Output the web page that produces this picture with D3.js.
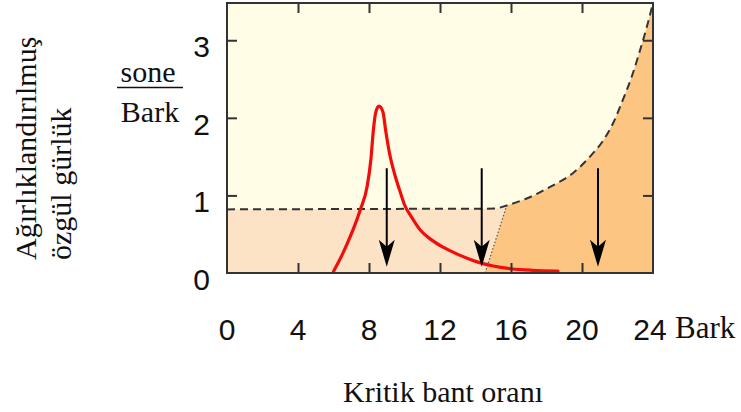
<!DOCTYPE html>
<html>
<head>
<meta charset="utf-8">
<script src="https://cdn.jsdelivr.net/npm/d3@7"></script>
<style>
  html, body { margin: 0; padding: 0; background: #ffffff; overflow: hidden; }
  text { fill: #111; }
</style>
</head>
<body>
<svg id="chart" width="741" height="412"></svg>
<script>
// Axis tick values (critical band rate in Bark, specific loudness in sone/Bark)
const xTickValues = [0, 4, 8, 12, 16, 20, 24];
const yTickValues = [0, 1, 2, 3];
const xInnerTicks = [4, 8, 12, 16, 20];
const yInnerTicks = [1, 2, 3];

// Specific loudness pattern of the narrow-band sound (red curve)
const maskerBark = [6.0, 6.5, 7.0, 7.5, 7.9, 8.1, 8.25, 8.38, 8.56, 8.78, 8.95, 9.15, 9.45, 9.75, 10.0, 10.4, 10.9, 11.5, 12.2, 13.0, 14.0, 15.0, 16.0, 17.2, 18.65];
const maskerSone = [0.02, 0.24, 0.50, 0.81, 1.12, 1.45, 1.85, 2.07, 2.15, 2.08, 1.82, 1.55, 1.27, 1.05, 0.88, 0.72, 0.55, 0.43, 0.33, 0.24, 0.15, 0.09, 0.055, 0.035, 0.025];

// Weighting boundary (dashed): flat part, then rising towards 24 Bark
const weightBark = [0, 15.2, 15.76, 16.88, 18.2, 19.5, 20.45, 21.2, 21.75, 22.3, 22.8, 23.27, 23.65, 24];
const weightSone = [0.82, 0.83, 0.87, 0.96, 1.11, 1.29, 1.50, 1.71, 1.93, 2.23, 2.53, 2.87, 3.17, 3.48];
const weightCornerIndex = 2;

// Dotted divider between the two shaded regions
const dividerBark = [14.54, 15.76];
const dividerSone = [0, 0.87];

// Downward arrows
const arrowBark = [9.0, 14.35, 20.9];
const arrowTop = [1.35, 1.35, 1.35];
const arrowTip = [0.08, 0.08, 0.08];

const svg = d3.select("#chart");
const plot = { left: 227, right: 653, top: 3, bottom: 273 };

const x = d3.scaleLinear().domain([0, 24]).range([plot.left, plot.right]);
const y = d3.scaleLinear().domain([0, 3.48]).range([plot.bottom, plot.top]);

const colors = {
  bg: "#fffde6",
  light: "#fde3c5",
  dark: "#fdc582",
  red: "#f20d0d",
  ink: "#333333"
};

const serif = "'Liberation Serif', 'Times New Roman', serif";
const sans = "'Liberation Sans', Arial, sans-serif";

svg.append("defs").append("clipPath").attr("id", "plotClip")
  .append("rect")
  .attr("x", plot.left).attr("y", plot.top)
  .attr("width", plot.right - plot.left).attr("height", plot.bottom - plot.top);

const g = svg.append("g").attr("clip-path", "url(#plotClip)");

// Background
g.append("rect")
  .attr("x", x(0)).attr("y", y(3.48))
  .attr("width", x(24) - x(0)).attr("height", y(0) - y(3.48))
  .attr("fill", colors.bg);

const weightPts = weightBark.map((b, i) => [b, weightSone[i]]);
const flatPts = weightPts.slice(0, weightCornerIndex + 1);
const risePts = weightPts.slice(weightCornerIndex);

const flatLine = d3.line().x(d => x(d[0])).y(d => y(d[1])).curve(d3.curveLinear);
const riseLine = d3.line().x(d => x(d[0])).y(d => y(d[1])).curve(d3.curveMonotoneX);

// Light shaded region (left of divider, below flat boundary)
g.append("path")
  .attr("d", flatLine(flatPts) +
    `L${x(dividerBark[0])},${y(dividerSone[0])}L${x(0)},${y(0)}Z`)
  .attr("fill", colors.light);

// Darker shaded region (right of divider, below rising boundary)
g.append("path")
  .attr("d", riseLine(risePts) +
    `L${x(24)},${y(0)}L${x(dividerBark[0])},${y(dividerSone[0])}Z`)
  .attr("fill", colors.dark);

// Dotted divider
g.append("path")
  .attr("d", flatLine(dividerBark.map((b, i) => [b, dividerSone[i]])))
  .attr("fill", "none")
  .attr("stroke", "#555")
  .attr("stroke-width", 1.2)
  .attr("stroke-dasharray", "1.5,2");

// Dashed weighting boundary
g.append("path")
  .attr("d", flatLine(flatPts) + riseLine(risePts).replace(/^M/, "L"))
  .attr("fill", "none")
  .attr("stroke", colors.ink)
  .attr("stroke-width", 2)
  .attr("stroke-dasharray", "8,5");

// Red specific loudness curve
g.append("path")
  .attr("d", d3.line().x(d => x(d[0])).y(d => y(d[1])).curve(d3.curveMonotoneX)
    (maskerBark.map((b, i) => [b, maskerSone[i]])))
  .attr("fill", "none")
  .attr("stroke", colors.red)
  .attr("stroke-width", 3.2)
  .attr("stroke-linecap", "round")
  .attr("stroke-linejoin", "round");

// Arrows
const arrows = g.selectAll("g.arrow")
  .data(arrowBark.map((b, i) => ({ b, top: arrowTop[i], tip: arrowTip[i] })))
  .join("g").attr("class", "arrow");

arrows.append("line")
  .attr("x1", d => x(d.b)).attr("x2", d => x(d.b))
  .attr("y1", d => y(d.top)).attr("y2", d => y(d.tip) - 12)
  .attr("stroke", "#000").attr("stroke-width", 2);

arrows.append("path")
  .attr("transform", d => `translate(${x(d.b)},${y(d.tip)})`)
  .attr("d", "M0,0L-8,-27L0,-20L8,-27Z")
  .attr("fill", "#000");

// Frame
svg.append("rect")
  .attr("x", plot.left).attr("y", plot.top)
  .attr("width", plot.right - plot.left).attr("height", plot.bottom - plot.top)
  .attr("fill", "none")
  .attr("stroke", colors.ink)
  .attr("stroke-width", 2);

// Inward ticks on all four sides
const tickLen = 10;
const bottomAxis = d3.axisBottom(x).tickValues(xInnerTicks).tickSize(-tickLen).tickFormat("");
const topAxis = d3.axisTop(x).tickValues(xInnerTicks).tickSize(-tickLen).tickFormat("");
const leftAxis = d3.axisLeft(y).tickValues(yInnerTicks).tickSize(-tickLen).tickFormat("");
const rightAxis = d3.axisRight(y).tickValues(yInnerTicks).tickSize(-tickLen).tickFormat("");

function styleAxis(sel) {
  sel.select(".domain").remove();
  sel.selectAll(".tick line").attr("stroke", colors.ink).attr("stroke-width", 2);
}
svg.append("g").attr("transform", `translate(0,${plot.bottom})`).call(bottomAxis).call(styleAxis);
svg.append("g").attr("transform", `translate(0,${plot.top})`).call(topAxis).call(styleAxis);
svg.append("g").attr("transform", `translate(${plot.left},0)`).call(leftAxis).call(styleAxis);
svg.append("g").attr("transform", `translate(${plot.right},0)`).call(rightAxis).call(styleAxis);

// Tick labels
svg.append("g").selectAll("text")
  .data(xTickValues).join("text")
  .attr("x", d => x(d) + (d === 24 ? -3 : 0)).attr("y", 340)
  .attr("text-anchor", "middle")
  .style("font-family", sans).style("font-size", "30px")
  .text(d => d);

svg.append("g").selectAll("text")
  .data(yTickValues).join("text")
  .attr("x", 210).attr("y", d => y(d) + 17)
  .attr("text-anchor", "end")
  .style("font-family", sans).style("font-size", "30px")
  .text(d => d);

svg.append("text")
  .attr("x", 675).attr("y", 338)
  .style("font-family", serif).style("font-size", "31px")
  .text("Bark");

// Unit fraction sone / Bark
svg.append("text")
  .attr("x", 148).attr("y", 82).attr("text-anchor", "middle")
  .style("font-family", serif).style("font-size", "30px")
  .text("sone");
svg.append("line")
  .attr("x1", 117).attr("x2", 183).attr("y1", 87.5).attr("y2", 87.5)
  .attr("stroke", "#111").attr("stroke-width", 1.6);
svg.append("text")
  .attr("x", 150).attr("y", 122).attr("text-anchor", "middle")
  .style("font-family", serif).style("font-size", "30px")
  .text("Bark");

// Axis titles
const yTitle = svg.append("g").attr("transform", "translate(0,260)");
yTitle.append("text")
  .attr("transform", "translate(36,0) rotate(-90)")
  .style("font-family", serif).style("font-size", "30px")
  .text("Ağırlıklandırılmuş");
yTitle.append("text")
  .attr("transform", "translate(71,0) rotate(-90)")
  .style("font-family", serif).style("font-size", "30px")
  .text("özgül gürlük");

svg.append("text")
  .attr("x", 443).attr("y", 402).attr("text-anchor", "middle")
  .style("font-family", serif).style("font-size", "30px")
  .text("Kritik bant oranı");
</script>
</body>
</html>
